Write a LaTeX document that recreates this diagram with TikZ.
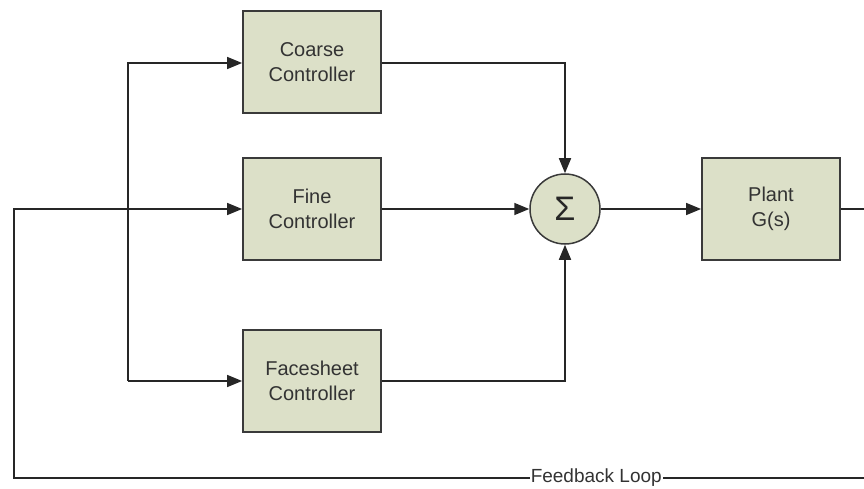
\documentclass[tikz,border=0pt]{standalone}
\usepackage{fontspec}
\setmainfont{Liberation Sans}
\usetikzlibrary{arrows.meta}
\definecolor{boxfill}{HTML}{DCE0C8}
\definecolor{boxline}{HTML}{3A3A3A}
\definecolor{txt}{HTML}{333333}
\tikzset{
  block/.style={draw=boxline, fill=boxfill, line width=1.8pt,
    minimum width=138pt, minimum height=102pt, inner sep=0pt,
    align=center, text=txt, font=\fontsize{20}{25}\selectfont},
  summer/.style={circle, draw=boxline, fill=boxfill, line width=1.5pt,
    minimum size=70pt, inner sep=0pt, text=black!85, font=\fontsize{34}{34}\selectfont},
  wire/.style={draw=black!85, line width=1.6pt},
  flow/.style={wire, -{Triangle[length=15pt,width=12pt]}}
}
\begin{document}
\begin{tikzpicture}[x=1pt,y=-1pt]
\useasboundingbox (0,0) rectangle (864,489);
% controller blocks
\node[block] (coarse) at (312,62) {Coarse\\Controller};
\node[block] (fine) at (312,209) {Fine\\Controller};
\node[block] (face) at (312,381) {Facesheet\\Controller};
% summing junction and plant
\node[summer] (sum) at (565,209) {Σ};
\node[block] (plant) at (771,209) {Plant\\G(s)};
% branch points and loop corners
\coordinate (bTop) at (128,63);
\coordinate (bBot) at (128,381);
\coordinate (fbL) at (14,478);
\coordinate (fbLTop) at (14,209);
\coordinate (outR) at (864,209);
\coordinate (fbR) at (864,478);
% feedback loop into the fine controller
\draw[flow] (fbR) -- node[pos=0.315, fill=white, inner sep=1pt, text=txt, font=\fontsize{19}{19}\selectfont] {Feedback Loop} (fbL) -- (fbLTop) -- (fine.west);
% branch to coarse and facesheet controllers
\draw[flow] (bBot) -- (bTop) -- (coarse.west |- bTop);
\draw[flow] (bBot) -- (face.west);
% controller outputs into the summing junction
\draw[flow] (coarse.east |- bTop) -| (sum.north);
\draw[flow] (fine.east) -- (sum.west);
\draw[flow] (face.east) -| (sum.south);
% summer to plant and plant output
\draw[flow] (sum.east) -- (plant.west);
\draw[wire] (plant.east) -- (outR);
\end{tikzpicture}
\end{document}
